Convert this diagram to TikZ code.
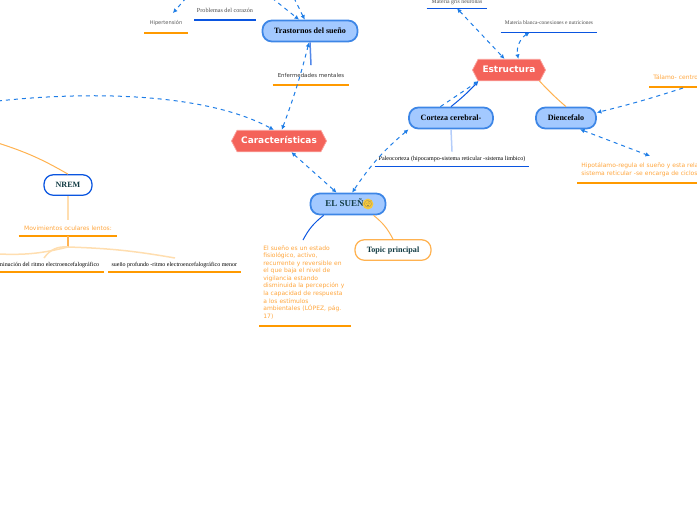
\documentclass[tikz,border=0pt]{standalone}
\usepackage{fontspec}
\setmainfont{Liberation Serif}
\setsansfont{DejaVu Sans}
\newfontfamily\emojifont{Noto Emoji}
\usetikzlibrary{positioning,arrows.meta,calc,shapes.symbols}
\definecolor{bubble}{RGB}{163,201,255}
\definecolor{bubbleline}{RGB}{61,134,230}
\definecolor{redhex}{RGB}{244,99,90}
\definecolor{redline}{RGB}{250,160,155}
\definecolor{barorange}{RGB}{255,154,0}
\definecolor{softorange}{RGB}{255,165,60}
\definecolor{linkorange}{RGB}{255,178,80}
\definecolor{paleorange}{RGB}{255,222,176}
\definecolor{barblue}{RGB}{10,85,224}
\definecolor{paleblue}{RGB}{180,205,250}
\definecolor{dashblue}{RGB}{30,125,230}
\definecolor{inkteal}{RGB}{16,58,66}
\definecolor{faceyellow}{RGB}{245,200,60}
\newcommand{\fs}[2]{\fontsize{#1}{#2}\selectfont}
\begin{document}
\begin{tikzpicture}[x=.2mm,y=-.2mm,
 bub/.style={rounded corners=5.3pt,draw=bubbleline,fill=bubble,line width=.35mm,minimum height=4.2mm,inner sep=0pt,text height=4.4pt,text depth=1pt,font=\fs{4.6}{5.5}\bfseries,text=black},
 pill/.style={rounded corners=5.3pt,fill=white,line width=.25mm,minimum height=4.1mm,inner sep=0pt,text height=4.4pt,text depth=1pt,font=\fs{4.6}{5.5}\bfseries,text=inkteal},
 hex/.style={signal,signal to=west and east,signal pointer angle=125,fill=redhex,draw=redline,line width=.15mm,minimum height=4.3mm,inner sep=0pt,text height=4.2pt,text depth=.8pt,text=white,font=\sffamily\fs{5.1}{6}\bfseries},
 leaf/.style={inner sep=0pt,minimum height=3.8mm,font=\fs{3.4}{4.4}},
 sleaf/.style={inner sep=0pt,minimum height=3.8mm,font=\sffamily\fs{3.1}{4.3}},
 oleaf/.style={sleaf,inner xsep=.8mm,align=left,text=softorange,font=\sffamily\fs{3.42}{4.3}},
 obar/.style={draw=barorange,line width=.5mm},
 thinobar/.style={draw=barorange,line width=.3mm},
 bbar/.style={draw=barblue,line width=.3mm},
 dashlink/.style={draw=dashblue,line width=.2mm,dash pattern=on .8mm off .8mm},
 bothlink/.style={dashlink,{Latex[length=.9mm,width=.9mm]}-{Latex[length=.9mm,width=.9mm]}},
 tiplink/.style={dashlink,-{Latex[length=.9mm,width=.9mm]}},
 orangelink/.style={draw=linkorange,line width=.2mm},
 palelink/.style={draw=paleorange,line width=.3mm}]
\useasboundingbox (0,0) rectangle (697,520);
% central topics
\node[bub,minimum width=15mm,text=inkteal,font=\fs{5.1}{6}\bfseries] (suenyo) at (348,204) {EL SUEÑO\hspace{3.2mm}};
\node[circle,fill=faceyellow,inner sep=0pt,minimum size=1.9mm,text=black!60,font=\emojifont\fs{3.8}{4.5}] (sleepy) at (368,204) {😴};
\node[pill,draw=linkorange,minimum width=15.2mm] (topic) at (393,250) {Topic principal};
\node[hex,minimum width=19mm] (caract) at (279,141) {Características};
\node[hex,minimum width=14.6mm] (estruct) at (509,70) {Estructura};
\node[bub,minimum width=19mm] (trast) at (310,31) {Trastornos del sueño};
\node[bub,minimum width=16.8mm] (corteza) at (451,118) {Corteza cerebral-};
\node[bub,minimum width=12mm] (dien) at (566,118) {Diencefalo};
\node[pill,draw=barblue,minimum width=9.6mm] (nrem) at (68,185) {NREM};
% underlined leaves
\node[leaf,minimum width=8.6mm,font=\sffamily\fs{2.9}{4},text=black!65] (hiper) at (166,23) {Hipertensión};
\node[leaf,minimum width=12.2mm,text=black!70,font=\fs{3.5}{4.4}] (corazon) at (225,10) {Problemas del corazón};
\node[sleaf,minimum width=15.2mm,text=black!80] (enferm) at (311,75) {Enfermedades mentales};
\node[leaf,minimum width=12mm,minimum height=2.4mm,text=black!70,font=\fs{3.3}{4.2}] (gris) at (457,2) {Materia gris neuronas};
\node[leaf,minimum width=19.2mm,text=black!70,font=\fs{3.1}{4}] (blanca) at (549,22.5) {Materia blanca-conexiones e nutriciones};
\node[leaf,minimum width=30.8mm,minimum height=2.8mm,font=\fs{3.44}{4.4}] (paleo) at (452,159) {Paleocorteza (hipocampo-sistema reticular -sistema limbico)};
\node[oleaf,anchor=south west,minimum height=0pt,text width=30mm,inner ysep=3.5pt] (hipota) at (577,183) {Hipotálamo-regula el sueño y esta rela\\sistema reticular -se encarga de ciclos};
\node[oleaf,anchor=west,text width=20mm] (talamo) at (649,77) {Tálamo- centro};
\node[oleaf,align=center,minimum width=19.6mm,minimum height=3mm] (movim) at (68,228) {Movimientos oculares lentos:};
\node[leaf,anchor=south east,minimum height=2.6mm,minimum width=21mm,inner xsep=.9mm] (dismin) at (104,272) {Disminución del ritmo electroencefalográfico};
\node[leaf,anchor=south west,minimum height=2.6mm,minimum width=26.4mm] (profundo) at (108,272) {sueño profundo -ritmo electroencefalográfico menor};
\node[oleaf,anchor=south west,text width=16.6mm,inner ysep=3.8pt] (parrafo) at (259,326) {El sueño es un estado\\fisiológico, activo,\\recurrente y reversible en\\el que baja el nivel de\\vigilancia estando\\disminuida la percepción y\\la capacidad de respuesta\\a los estímulos\\ambientales (LÓPEZ, pág.\\17)};
\draw[obar](hiper.south west)--(hiper.south east);\draw[bbar](corazon.south west)--(corazon.south east);
\draw[obar](enferm.south west)--(enferm.south east);\draw[bbar](gris.south west)--(gris.south east);
\draw[bbar](blanca.south west)--(blanca.south east);\draw[bbar](paleo.south west)--(paleo.south east);
\draw[obar](hipota.south west)--(hipota.south east);\draw[obar](talamo.south west)--(talamo.south east);
\draw[obar](movim.south west)--(movim.south east);\draw[thinobar](dismin.south west)--(dismin.south east);
\draw[thinobar](profundo.south west)--(profundo.south east);\draw[obar](parrafo.south west)--(parrafo.south east);
% free ends
\coordinate (leftend) at (-2,101);
\coordinate (topa) at (272,-2);
\coordinate (topb) at (294,-2);
\coordinate (topc) at (186,-2);
\coordinate (nremend) at (-2,143);
\coordinate (fork) at (68,247);
\coordinate (forka) at (-2,254);
\coordinate (forkb) at (44,258);
\coordinate (forkc) at (175,258);
\coordinate (parrafotop) at (303,240);
\coordinate (hipotatop) at (650,156);
\coordinate (talamoend) at (683,88);
% solid links
\draw[draw=barblue,line width=.2mm](suenyo.-155) to[bend right=12] (parrafotop);
\draw[orangelink](suenyo.-24) to[bend left=12] (topic.north);
\draw[draw=barblue,line width=.2mm,-{Latex[length=.9mm,width=.9mm]}](corteza.north) to[bend right=4] (estruct.-160);
\draw[orangelink](dien.north) to[bend left=3] (estruct.-20);
\draw[draw=paleblue,line width=.3mm](corteza.south)--(paleo.north);
\draw[draw=barblue!70,line width=.3mm](trast.south)--(enferm.north);
\draw[palelink](nrem.south)--(movim.north);
\draw[orangelink](nrem.north) to[bend right=6] (nremend);
\draw[draw=linkorange,line width=.3mm](movim.south)--(fork);
\draw[palelink](fork) to[bend left=8] (forka);
\draw[palelink](fork) to[bend right=30] (forkb);
\draw[palelink](fork) to[bend left=4] (forkc);
% dashed links
\draw[bothlink](caract.-42)--(suenyo.135);
\draw[bothlink](corteza.-165) to[bend right=8] (suenyo.70);
\draw[bothlink](caract.76) to[bend right=3] (trast.-95);
\draw[tiplink](leftend) .. controls (100,90) and (210,95) .. (caract.115);
\draw[tiplink](topa)--(trast.134);
\draw[tiplink](topb)--(trast.115);
\draw[tiplink](topc)--(hiper.55);
\draw[bothlink](gris.south)--(estruct.112);
\draw[bothlink](blanca.-153) to[bend right=35] (estruct.50);
\draw[tiplink](corteza.133)--(estruct.-160);
\draw[tiplink](talamoend) to[bend left=2] (dien.10);
\draw[bothlink](dien.-39)--(hipotatop);
\end{tikzpicture}
\end{document}
